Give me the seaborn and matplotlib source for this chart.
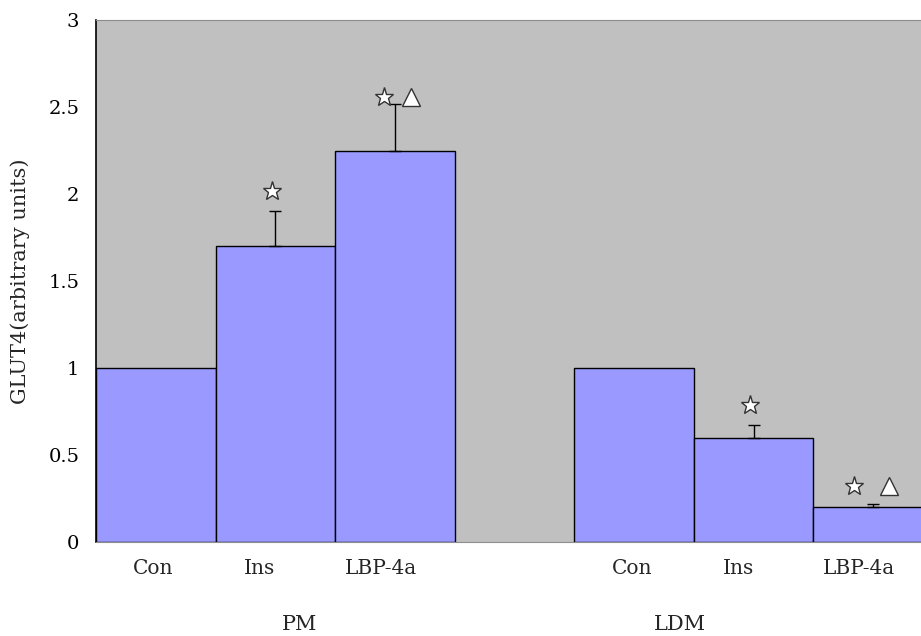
import numpy as np
import pandas as pd
import matplotlib
matplotlib.use("Agg")
import matplotlib.pyplot as plt
import matplotlib.transforms as mtransforms
import seaborn as sns

# --- data -------------------------------------------------------------
groups = ["PM", "LDM"]
treatments = ["Con", "Ins", "LBP-4a"]
pm_values = [1.0, 1.70, 2.25]
pm_errors = [0.0, 0.20, 0.27]
ldm_values = [1.0, 0.60, 0.20]
ldm_errors = [0.0, 0.07, 0.02]
# significance marks per bar: star = vs Con, triangle = vs Ins
pm_star = [False, True, True]
pm_tri = [False, False, True]
ldm_star = [False, True, True]
ldm_tri = [False, False, True]
y_ticks = [0, 0.5, 1, 1.5, 2, 2.5, 3]
y_tick_labels = ["0", "0.5", "1", "1.5", "2", "2.5", "3"]

# --- table ------------------------------------------------------------
rows = []
for g, vals, errs, st, tr in [("PM", pm_values, pm_errors, pm_star, pm_tri),
                              ("LDM", ldm_values, ldm_errors, ldm_star, ldm_tri)]:
    for t, v, e, s, a in zip(treatments, vals, errs, st, tr):
        rows.append(dict(group=g, treatment=t, slot=f"{g} {t}",
                         value=v, err=e, star=s, tri=a))
df = pd.DataFrame(rows)

# one empty slot between the two groups
order = [f"PM {t}" for t in treatments] + ["gap"] + [f"LDM {t}" for t in treatments]
slot_pos = {name: i for i, name in enumerate(order)}
df["pos"] = df["slot"].map(slot_pos)

sns.set_style("white")
plt.rcParams["font.family"] = ["DejaVu Serif"]

fig = plt.figure(figsize=(9.21, 6.36), dpi=100)
W, H = 921, 636
ax = fig.add_axes([96 / W, (H - 542) / H, 837 / W, 522 / H])
ax.set_facecolor("#C0C0C0")
fig.patch.set_facecolor("white")

sns.barplot(data=df, x="slot", y="value", order=order, color="#9999FF",
            saturation=1, width=1.0, edgecolor="black", linewidth=1.0,
            errorbar=None, ax=ax, zorder=2)

# upper-only error bars
has_err = df["err"] > 0
ax.errorbar(df.loc[has_err, "pos"], df.loc[has_err, "value"],
            yerr=[np.zeros(has_err.sum()), df.loc[has_err, "err"]],
            fmt="none", ecolor="black", elinewidth=1.0, capsize=4,
            capthick=1.0, zorder=3)

# significance symbols above the error bars
mark_style = dict(mfc="white", mec="#333333", mew=1.0, ls="none", zorder=4)
for _, r in df.iterrows():
    top = r["value"] + r["err"]
    if r["star"] and r["tri"]:
        pm = r["group"] == "PM"
        gap = 0.04 if pm else 0.10
        star_dx = -0.09 if pm else -0.16
        ax.plot(r["pos"] + star_dx, top + gap, marker="*", ms=14, **mark_style)
        ax.plot(r["pos"] + 0.135, top + gap, marker="^", ms=13, **mark_style)
    elif r["star"]:
        ax.plot(r["pos"] - 0.03, top + 0.12, marker="*", ms=14, **mark_style)

ax.set_xlim(-0.5, len(order) - 0.5)
ax.set_ylim(0, 3)
ax.set_yticks(y_ticks)
ax.set_yticklabels(y_tick_labels, fontsize=14)
ax.tick_params(axis="y", direction="in", length=6, width=1, pad=12, colors="black")

# category labels under each bar
label_shift = [-0.02, -0.13, -0.12]
xt, xl = [], []
for g in groups:
    for t, s in zip(treatments, label_shift):
        xt.append(slot_pos[f"{g} {t}"] + s)
        xl.append(t)
ax.set_xticks(xt)
ax.set_xticklabels(xl, fontsize=14.5)
ax.tick_params(axis="x", length=0, pad=12)

ax.set_xlabel("")
ax.set_ylabel("GLUT4(arbitrary units)", fontsize=15)
ax.yaxis.set_label_coords(-0.079, 0.5)

# group names below the category labels
trans = mtransforms.blended_transform_factory(ax.transData, fig.transFigure)
group_x = {"PM": 1.2, "LDM": 4.38}
for g in groups:
    ax.text(group_x[g], (H - 625) / H, g, transform=trans, ha="center",
            va="center", fontsize=15)

for side in ["top", "bottom", "left", "right"]:
    ax.spines[side].set_visible(True)
ax.spines["left"].set_color("black")
ax.spines["left"].set_linewidth(1.2)
ax.spines["top"].set_color("#8C8C8C")
ax.spines["bottom"].set_color("#8C8C8C")
ax.spines["right"].set_visible(False)
ax.grid(False)

fig.savefig("out.png", dpi=100)
